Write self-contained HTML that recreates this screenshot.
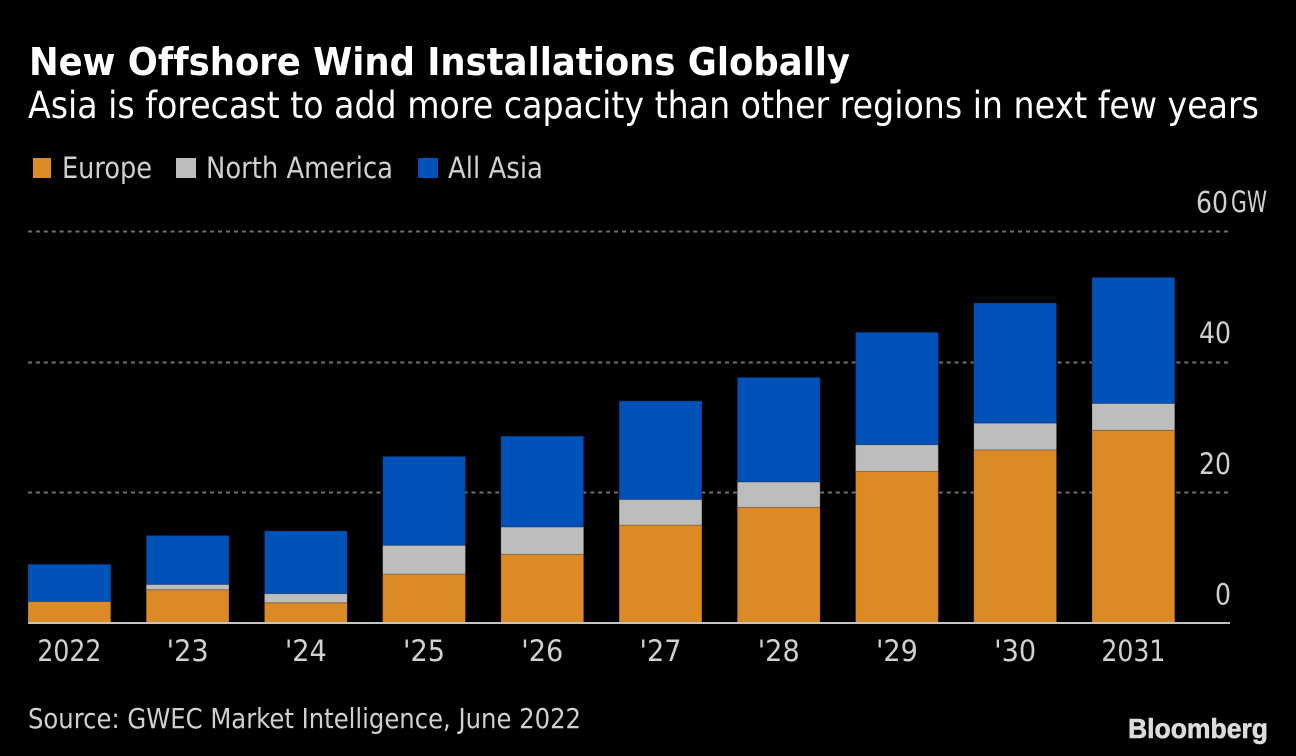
<!DOCTYPE html>
<html lang="en">
<head>
<meta charset="utf-8">
<title>New Offshore Wind Installations Globally</title>
<style>
html,body{margin:0;padding:0;background:#000;width:1296px;height:756px;overflow:hidden}
svg{display:block}
text{font-family:"DejaVu Sans","Liberation Sans",sans-serif;font-variant-ligatures:none}
</style>
</head>
<body>
<svg id="chart" xmlns="http://www.w3.org/2000/svg" width="1296" height="756" viewBox="0 0 1296 756">
<rect x="0" y="0" width="1296" height="756" fill="#000"/>
<text x="29" y="75" font-size="38" font-weight="700" fill="#fff" textLength="821" lengthAdjust="spacingAndGlyphs">New Offshore Wind Installations Globally</text>
<text x="28" y="118" font-size="37" fill="#fff" textLength="1231" lengthAdjust="spacingAndGlyphs">Asia is forecast to add more capacity than other regions in next few years</text>
<g>
<rect x="33" y="158" width="18" height="20" fill="#dc8a26"/>
<text x="62" y="178" font-size="29" fill="#d0d0d0" textLength="90" lengthAdjust="spacingAndGlyphs">Europe</text>
<rect x="176" y="158" width="20" height="20" fill="#bdbdbd"/>
<text x="206" y="178" font-size="29" fill="#d0d0d0" textLength="187" lengthAdjust="spacingAndGlyphs">North America</text>
<rect x="418" y="158" width="20" height="20" fill="#0052b9"/>
<text x="448" y="178" font-size="29" fill="#d0d0d0" textLength="95" lengthAdjust="spacingAndGlyphs">All Asia</text>
</g>
<g id="grid"></g>
<g id="bars"></g>
<g id="xaxis"></g>
<g id="yaxis"></g>
<text x="1231" y="212" font-size="29" fill="#d0d0d0" textLength="36" lengthAdjust="spacingAndGlyphs">GW</text>
<text x="28" y="728" font-size="28" fill="#d0d0d0" textLength="553" lengthAdjust="spacingAndGlyphs">Source: GWEC Market Intelligence, June 2022</text>
<text x="1128" y="738" style="font-family:'Liberation Sans',sans-serif" font-size="28" font-weight="700" fill="#dcdcdc" stroke="#dcdcdc" stroke-width="0.6" textLength="140" lengthAdjust="spacingAndGlyphs">Bloomberg</text>
</svg>
<script>
const categories = ["2022", "'23", "'24", "'25", "'26", "'27", "'28", "'29", "'30", "2031"];
const europe = [3.3, 5.1, 3.1, 7.5, 10.5, 15.0, 17.7, 23.2, 26.5, 29.5];
const northAmerica = [0, 0.8, 1.4, 4.4, 4.2, 3.9, 3.9, 4.1, 4.1, 4.1];
const allAsia = [5.7, 7.5, 9.6, 13.6, 13.9, 15.1, 16.0, 17.2, 18.4, 19.3];
const yTicks = [0, 20, 40, 60];

const NS = 'http://www.w3.org/2000/svg';
function yScale(v) { return 623 - v * (392 / 60); }
function xLeft(i) { return 28 + i * 118.22; }
function labelWidth(s) {
  let w = 0;
  for (const ch of String(s)) { w += ch === "'" ? 10 : 16; }
  return w;
}
const barWidth = 82.8;
const maxTick = yTicks[yTicks.length - 1];

const grid = document.getElementById('grid');
const yaxis = document.getElementById('yaxis');
yTicks.forEach(function (t) {
  if (t > 0) {
    const line = document.createElementNS(NS, 'line');
    
    
    line.setAttribute('x1', 28);
    line.setAttribute('x2', 1228);
    line.setAttribute('y1', Math.round(yScale(t)) + 0.5);
    line.setAttribute('y2', Math.round(yScale(t)) + 0.5);
    line.setAttribute('stroke', '#707070');
    line.setAttribute('stroke-width', 2);
    line.setAttribute('stroke-dasharray', '4 3.92');
    grid.appendChild(line);
  }
  const label = document.createElementNS(NS, 'text');
  
  
  label.setAttribute('x', t === maxTick ? 1228 : 1231);
  label.setAttribute('y', yScale(t) - 18.5);
  label.setAttribute('text-anchor', 'end');
  label.setAttribute('font-size', 29);
  label.setAttribute('fill', '#d0d0d0');
  label.setAttribute('textLength', labelWidth(t));
  label.setAttribute('lengthAdjust', 'spacingAndGlyphs');
  label.textContent = t;
  yaxis.appendChild(label);
});

const bars = document.getElementById('bars');
const colors = { europe: '#dc8a26', north: '#bdbdbd', asia: '#0052b9' };
function addSegment(i, base, value, color, name) {
  if (value <= 0) return;
  const r = document.createElementNS(NS, 'rect');
  
  
  r.setAttribute('x', xLeft(i));
  r.setAttribute('y', yScale(base + value));
  r.setAttribute('width', barWidth);
  r.setAttribute('height', yScale(base) - yScale(base + value));
  r.setAttribute('fill', color);
  r.setAttribute('stroke', '#000');
  r.setAttribute('stroke-opacity', '0.2');
  r.setAttribute('stroke-width', '1');
  bars.appendChild(r);
}
categories.forEach(function (c, i) {
  addSegment(i, 0, europe[i], colors.europe, 'bar-europe-' + i);
  addSegment(i, europe[i], northAmerica[i], colors.north, 'bar-north-america-' + i);
  addSegment(i, europe[i] + northAmerica[i], allAsia[i], colors.asia, 'bar-all-asia-' + i);
});

const xaxis = document.getElementById('xaxis');
const axisLine = document.createElementNS(NS, 'line');


axisLine.setAttribute('x1', 28);
axisLine.setAttribute('x2', 1230);
axisLine.setAttribute('y1', 623);
axisLine.setAttribute('y2', 623);
axisLine.setAttribute('stroke', '#c4c4c4');
axisLine.setAttribute('stroke-width', 2);
xaxis.appendChild(axisLine);
categories.forEach(function (c, i) {
  const t = document.createElementNS(NS, 'text');
  
  
  t.setAttribute('x', xLeft(i) + barWidth / 2);
  t.setAttribute('y', 661);
  t.setAttribute('text-anchor', 'middle');
  t.setAttribute('font-size', 29);
  t.setAttribute('fill', '#d0d0d0');
  t.setAttribute('textLength', labelWidth(c));
  t.setAttribute('lengthAdjust', 'spacingAndGlyphs');
  t.textContent = c;
  xaxis.appendChild(t);
});
</script>
</body>
</html>
